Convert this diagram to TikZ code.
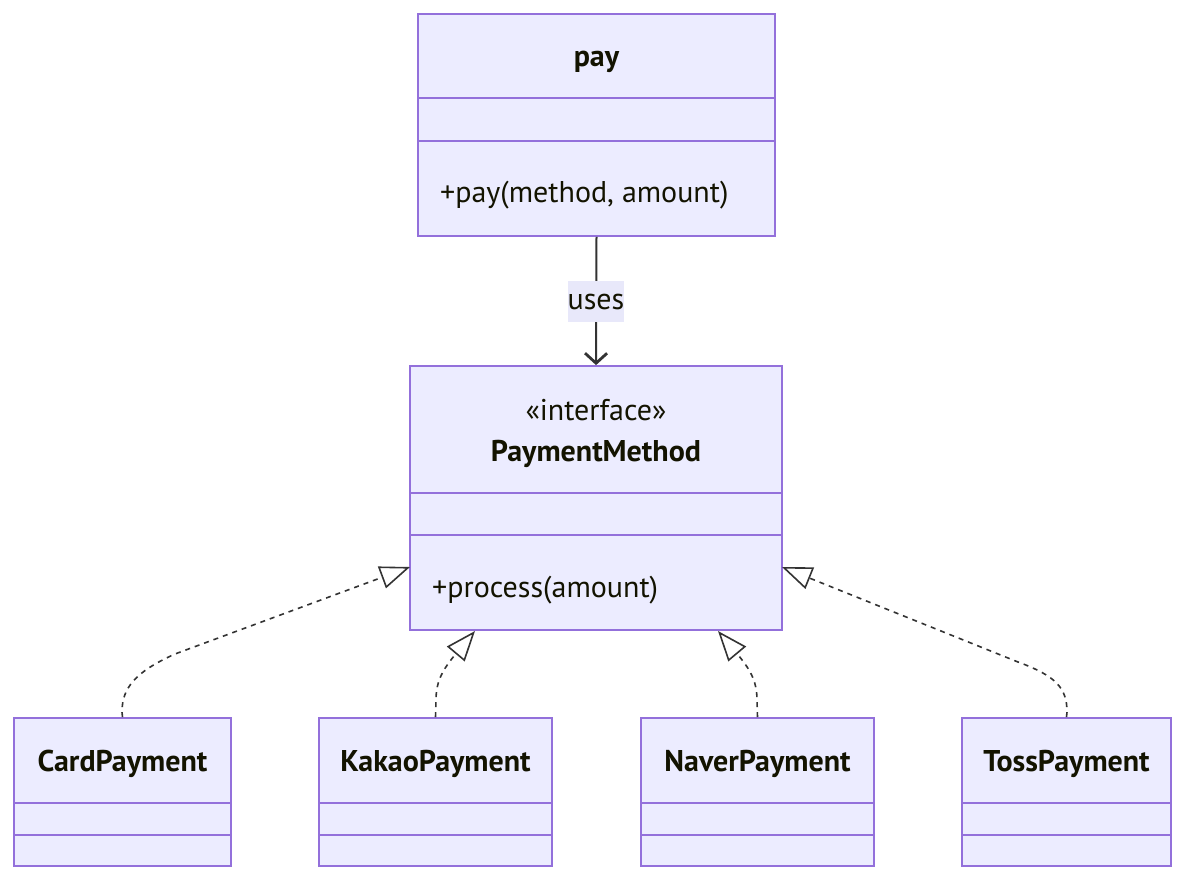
\documentclass[tikz,border=0pt]{standalone}
\usepackage{fontspec}
\setmainfont{PT Sans}
\usetikzlibrary{arrows.meta}
\definecolor{clsfill}{HTML}{ECECFF}
\definecolor{clsline}{HTML}{9370DB}
\definecolor{txt}{HTML}{131300}
\definecolor{edgec}{HTML}{333333}
\definecolor{lblfill}{HTML}{E8E8FA}
\begin{document}
\begin{tikzpicture}[x=1pt,y=-1pt,
  cls/.style={draw=clsline, fill=clsfill, line width=1.8pt, inner sep=0pt},
  sep/.style={draw=clsline, line width=1.8pt},
  ttl/.style={font=\fontsize{30}{34}\selectfont\bfseries, text=txt, inner sep=0pt},
  mbr/.style={font=\fontsize{30}{34}\selectfont, text=txt, inner sep=0pt},
  real/.style={draw=edgec, line width=1.6pt, dashed, dash pattern=on 5pt off 5pt, -{Triangle[open, length=30pt, width=23pt, line width=1.6pt]}},
  usesarrow/.style={draw=edgec, line width=2pt, -{Straight Barb[length=10pt, width=22pt, line width=2.8pt]}}
]
\fill[white] (0,0) rectangle (1200,891);
\useasboundingbox (0,0) rectangle (1200,891);

% pay
\node[cls, minimum width=357, minimum height=222] (pay) at (596.5,125) {};
\draw[sep] (418,98) -- (775,98);
\draw[sep] (418,141) -- (775,141);
\node[ttl] (payt) at (596.5,62) {pay};
\node[mbr, anchor=west] (paym) at (440,195) {+pay(method, amount)};

% PaymentMethod
\node[cls, minimum width=372, minimum height=264] (pm) at (596,498) {};
\draw[sep] (410,493) -- (782,493);
\draw[sep] (410,535) -- (782,535);
\node[mbr] (pms) at (596,410) {«interface»};
\node[ttl] (pmt) at (596,454) {PaymentMethod};
\node[mbr, anchor=west] (pmm) at (432,590) {+process(amount)};

% bottom classes
\node[cls, minimum width=217, minimum height=148] (card) at (122.5,792) {};
\node[cls, minimum width=233, minimum height=148] (kakao) at (435.5,792) {};
\node[cls, minimum width=233, minimum height=148] (naver) at (757.5,792) {};
\node[cls, minimum width=209, minimum height=148] (toss) at (1066.5,792) {};
\foreach \a/\b in {14/231, 319/552, 641/874, 962/1171}{
  \draw[sep] (\a,803) -- (\b,803);
  \draw[sep] (\a,835) -- (\b,835);
}
\node[ttl] (cardt) at (122.5,764) {CardPayment};
\node[ttl] (kakaot) at (435.5,764) {KakaoPayment};
\node[ttl] (navert) at (757.5,764) {NaverPayment};
\node[ttl] (tosst) at (1066.5,764) {TossPayment};

% connection points on PaymentMethod
\coordinate (pmL) at (410,567);
\coordinate (pmR) at (782,567);
\coordinate (pmBL) at (475,631);
\coordinate (pmBR) at (718,631);

% uses
\draw[usesarrow] (pay.south) -- (pm.north);
\node[mbr, fill=lblfill, minimum width=52, minimum height=41, text depth=0pt] (uses) at (596,301.5) {uses};

% realizations
\draw[real] (card.north) -- (122,712) .. controls (122,688) and (135,672) .. (175,654) -- (pmL);
\draw[real] (kakao.north) -- (436,700) .. controls (436,680) and (444,668) .. (pmBL);
\draw[real] (naver.north) -- (757,700) .. controls (757,680) and (749,668) .. (pmBR);
\draw[real] (toss.north) -- (1067,712) .. controls (1067,688) and (1056,676) .. (1018,662) -- (pmR);
\end{tikzpicture}
\end{document}
